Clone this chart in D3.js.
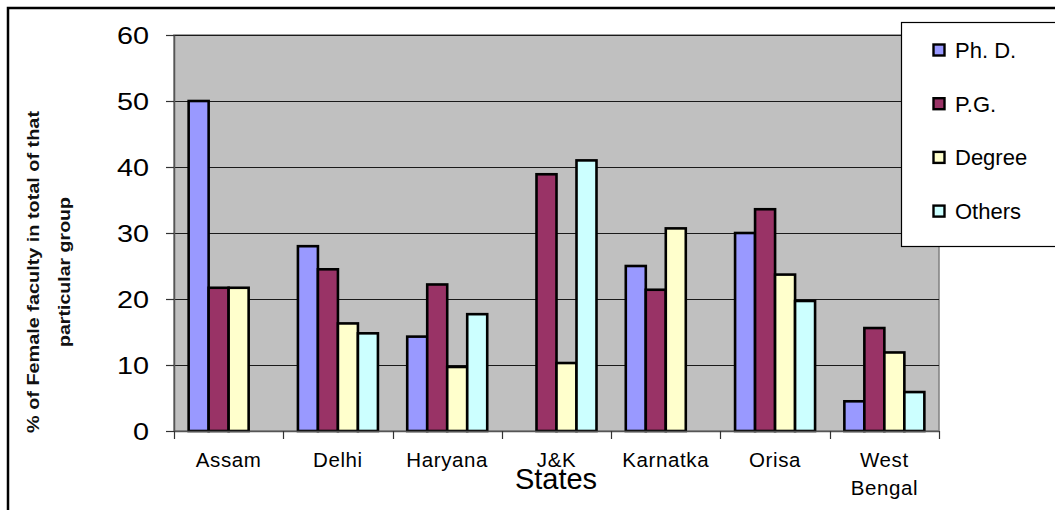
<!DOCTYPE html>
<html>
<head>
<meta charset="utf-8">
<script src="https://cdn.jsdelivr.net/npm/d3@7"></script>
<style>
  html, body { margin: 0; padding: 0; background: #fff; }
  svg { display: block; }
  text { font-family: "Liberation Sans", Arial, sans-serif; }
</style>
</head>
<body>
<svg id="chart" width="1055" height="510"></svg>
<script>
const states = ["Assam", "Delhi", "Haryana", "J&K", "Karnatka", "Orisa", "West Bengal"];
const seriesNames = ["Ph. D.", "P.G.", "Degree", "Others"];
const phd    = [50.0, 28.0, 14.3, 0,    25.0, 30.0, 4.5];
const pg     = [21.7, 24.5, 22.2, 38.9, 21.4, 33.6, 15.6];
const degree = [21.7, 16.3,  9.7, 10.3, 30.7, 23.7, 11.9];
const others = [0,    14.8, 17.7, 41.0, 0,    19.7, 5.9];
const yTicks = [0, 10, 20, 30, 40, 50, 60];
const colors = ["#9999FF", "#993366", "#FFFFCC", "#CCFFFF"];

const seriesValues = [phd, pg, degree, others];
const data = states.map((s, i) => ({
  state: s,
  values: seriesNames.map((n, j) => ({ key: n, value: seriesValues[j][i] }))
}));

const svg = d3.select("#chart");
const L = 174, R = 939, T = 35, B = 431;

// outer frame
svg.append("rect").attr("x", 8).attr("y", 8).attr("width", 1070).attr("height", 520)
  .attr("fill", "#fff").attr("stroke", "#000").attr("stroke-width", 2.5);

const x = d3.scaleBand().domain(states).range([L, R]).paddingInner(0.268).paddingOuter(0.134);
const xInner = d3.scaleBand().domain(seriesNames).range([0, x.bandwidth()]).padding(0);
const y = d3.scaleLinear().domain([0, 60]).range([B, T]);

// plot background
svg.append("rect").attr("x", L).attr("y", T).attr("width", R - L).attr("height", B - T)
  .attr("fill", "#C0C0C0").attr("stroke", "#808080").attr("stroke-width", 1.5);

// gridlines
svg.append("g").selectAll("line").data(yTicks.filter(d => d > 0)).join("line")
  .attr("x1", L).attr("x2", R)
  .attr("y1", d => Math.round(y(d)) + 0.5).attr("y2", d => Math.round(y(d)) + 0.5)
  .attr("stroke", "#1a1a1a").attr("stroke-width", 1);

// bars
const groups = svg.append("g").selectAll("g").data(data).join("g")
  .attr("transform", d => `translate(${x(d.state)},0)`);
groups.selectAll("rect").data(d => d.values.filter(v => v.value > 0)).join("rect")
  .attr("x", d => xInner(d.key))
  .attr("y", d => y(d.value))
  .attr("width", xInner.bandwidth())
  .attr("height", d => y(0) - y(d.value))
  .attr("fill", (d) => colors[seriesNames.indexOf(d.key)])
  .attr("stroke", "#000").attr("stroke-width", 2.6);

// y axis
const yAxis = svg.append("g").attr("transform", `translate(${L},0)`)
  .call(d3.axisLeft(y).tickValues(yTicks).tickSize(8).tickSizeOuter(0));
yAxis.select(".domain").attr("stroke", "#555").attr("stroke-width", 1.5);
yAxis.selectAll(".tick line").attr("stroke", "#333").attr("stroke-width", 1.2);
const sx = 1.2;
yAxis.selectAll(".tick text")
  .attr("font-size", 24).attr("fill", "#000")
  .attr("transform", `scale(${sx},1)`)
  .attr("x", -25 / sx).attr("dy", "0.36em");

// x axis
const xAxis = svg.append("g").attr("transform", `translate(0,${B})`)
  .call(d3.axisBottom(x).tickSize(0).tickSizeOuter(0));
xAxis.select(".domain").attr("stroke", "#555").attr("stroke-width", 1.5);
xAxis.selectAll(".tick text").remove();
const boundaries = states.map(s => x(s) - x.step() * x.paddingInner() / 2 - (s === states[0] ? x.step() * (x.paddingOuter() - x.paddingInner() / 2) : 0));
boundaries.push(R);
xAxis.append("g").selectAll("line").data(boundaries).join("line")
  .attr("x1", d => Math.round(d) + 0.5).attr("x2", d => Math.round(d) + 0.5)
  .attr("y1", 0).attr("y2", 8).attr("stroke", "#333").attr("stroke-width", 1.2);

const labelG = svg.append("g");
states.forEach(s => {
  const cx = x(s) + x.bandwidth() / 2;
  const lines = s === "West Bengal" ? ["West", "Bengal"] : [s];
  lines.forEach((ln, k) => {
    labelG.append("text").attr("x", cx).attr("y", 466.5 + k * 28.5)
      .attr("text-anchor", "middle").attr("font-size", 20.5).attr("fill", "#000")
      .attr("letter-spacing", 0.6)
      .text(ln);
  });
});

// x title
svg.append("text").attr("x", 556).attr("y", 489).attr("text-anchor", "middle")
  .attr("font-size", 29).attr("fill", "#000").text("States");

// y title
const yt = svg.append("g").attr("font-weight", "bold").attr("font-size", 17).attr("fill", "#111");
yt.append("text").attr("transform", "translate(38.5,272) rotate(-90)")
  .attr("text-anchor", "middle")
  .attr("textLength", 322).attr("lengthAdjust", "spacingAndGlyphs")
  .text("% of Female faculty in total of that");
yt.append("text").attr("transform", "translate(70,272) rotate(-90)")
  .attr("text-anchor", "middle")
  .attr("textLength", 150).attr("lengthAdjust", "spacingAndGlyphs")
  .text("particular group");

// legend
const lg = svg.append("g");
lg.append("rect").attr("x", 901.5).attr("y", 22.5).attr("width", 160).attr("height", 224)
  .attr("fill", "#fff").attr("stroke", "#000").attr("stroke-width", 1.2);
seriesNames.forEach((n, i) => {
  const cy = 50 + i * 53.7;
  lg.append("rect").attr("x", 933.5).attr("y", cy - 5.5).attr("width", 11).attr("height", 11)
    .attr("fill", colors[i]).attr("stroke", "#000").attr("stroke-width", 2.4);
  lg.append("text").attr("x", 955).attr("y", cy + 8).attr("font-size", 22)
    .attr("fill", "#000").text(n);
});
</script>
</body>
</html>
